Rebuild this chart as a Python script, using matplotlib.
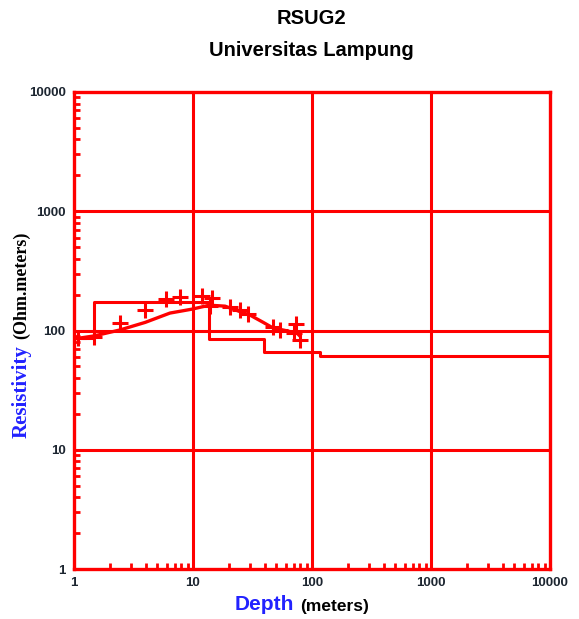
'''
RSUG2 resistivity sounding — Universitas Lampung
Apparent resistivity vs. depth on log-log axes, with the layered
model (step line), the model curve and the field readings (+).
'''

import matplotlib.pyplot as plt
from matplotlib.ticker import LogLocator, NullFormatter, FixedLocator

# ---------------------------------------------------------------------------
# DATA
# ---------------------------------------------------------------------------
# field readings
obs_depth = [1.09, 1.47, 2.45, 3.95, 5.9, 7.8, 11.8, 14.4, 14.0, 20.5, 24.8, 29.0,
             47.0, 54.0, 70.0, 74.0, 79.0]
obs_rho = [86, 89, 115, 149, 183, 190, 195, 188, 160, 158, 148, 137,
           106, 101, 95, 113, 84]

# fitted curve
curve_depth = [1.0, 1.47, 2.43, 3.97, 6.4, 9.8, 13.7, 18.6, 24.8, 30.0, 38.9, 47.0, 57.0, 74.8, 79.0]
curve_rho = [85, 90, 101, 117, 140, 151, 163, 160, 144, 135, 117, 105, 101, 95, 90]

# layered model: layer resistivities and bottom depth of each layer
layer_rho = [86.5, 174, 85, 66.4, 61]
layer_bottom = [1.47, 13.7, 39.5, 116, 10000]

title_lines = ["RSUG2", "Universitas Lampung"]
decades = [1, 10, 100, 1000, 10000]
decade_labels = ["1", "10", "100", "1000", "10000"]

RED = "#ff0000"
LABEL_COL = "#1c2530"
W, H = 579, 619


def step_xy(rho, bottom, top=1.0):
    xs, ys = [], []
    d0 = top
    for r, d1 in zip(rho, bottom):
        xs += [d0, d1]
        ys += [r, r]
        d0 = d1
    return xs, ys


def figpos(x, y):
    # pixel position -> figure fraction
    return x / W, 1 - y / H


def main():
    fig = plt.figure(figsize=(W / 100, H / 100), dpi=100)
    ax = fig.add_axes([74 / W, 1 - 569 / H, 476 / W, 477 / H])
    ax.set_xscale("log")
    ax.set_yscale("log")
    ax.set_xlim(1, 10000)
    ax.set_ylim(1, 10000)

    # grid on decades, drawn as plain lines
    for d in decades[1:-1]:
        ax.axvline(d, color=RED, lw=2.2, zorder=1)
        ax.axhline(d, color=RED, lw=2.2, zorder=1)

    for s in ax.spines.values():
        s.set_color(RED)
        s.set_linewidth(2.4)

    ax.xaxis.set_major_locator(FixedLocator(decades))
    ax.yaxis.set_major_locator(FixedLocator(decades))
    ax.xaxis.set_minor_locator(LogLocator(base=10, subs=range(2, 10)))
    ax.yaxis.set_minor_locator(LogLocator(base=10, subs=range(2, 10)))
    ax.xaxis.set_minor_formatter(NullFormatter())
    ax.yaxis.set_minor_formatter(NullFormatter())
    ax.set_xticklabels(decade_labels)
    ax.set_yticklabels(decade_labels)
    ax.tick_params(which="major", length=0, pad=6, labelsize=9.5, labelcolor=LABEL_COL)
    ax.tick_params(which="minor", direction="in", length=4.5, width=2.0, color=RED)
    for lab in ax.get_xticklabels() + ax.get_yticklabels():
        lab.set_fontfamily("Liberation Sans")
        lab.set_fontweight("bold")

    # layered model
    sx, sy = step_xy(layer_rho, layer_bottom)
    ax.plot(sx, sy, color=RED, lw=2.2, zorder=3)
    # model curve
    ax.plot(curve_depth, curve_rho, color=RED, lw=2.4, zorder=3)
    # readings
    ax.plot(obs_depth, obs_rho, ls="none", marker="+", ms=12, mew=2.2, color=RED, zorder=4)

    # titles
    fig.text(*figpos(311, 18), title_lines[0], ha="center", va="center",
             fontsize=14.5, fontweight="bold", family="Liberation Sans")
    fig.text(*figpos(311, 50), title_lines[1], ha="center", va="center",
             fontsize=14.5, fontweight="bold", family="Liberation Sans")

    # x label in two colours
    fig.text(*figpos(294, 604), "Depth", ha="right", va="center", color="#2222ff",
             fontsize=15, fontweight="bold", family="Liberation Sans")
    fig.text(*figpos(300, 606), "(meters)", ha="left", va="center", color="black",
             fontsize=12.5, fontweight="bold", family="Liberation Sans")

    # y label in two colours
    fig.text(*figpos(22, 392), "Resistivity", ha="center", va="center", rotation=90,
             color="#2222ff", fontsize=15, fontweight="bold", family="Liberation Serif")
    fig.text(*figpos(22, 285), "(Ohm.meters)", ha="center", va="center", rotation=90,
             color="black", fontsize=13, fontweight="bold", family="Liberation Serif")

    fig.savefig("out.png", dpi=100)
    plt.close(fig)


if __name__ == "__main__":
    main()
